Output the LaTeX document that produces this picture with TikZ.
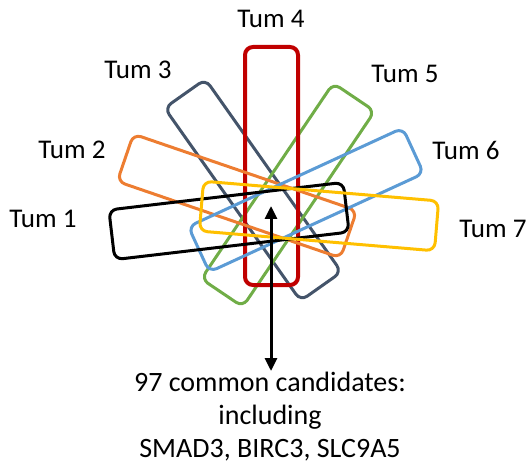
\documentclass[tikz,border=0pt]{standalone}
\usepackage{fontspec}
\setmainfont{Carlito}
\usepackage{tikz}
\usetikzlibrary{arrows.meta}
\definecolor{tumred}{HTML}{C00000}
\definecolor{tumorange}{HTML}{ED7D31}
\definecolor{tumslate}{HTML}{44546A}
\definecolor{tumgreen}{HTML}{70AD47}
\definecolor{tumblue}{HTML}{5B9BD5}
\definecolor{tumyellow}{HTML}{FFC000}

\begin{document}
\begin{tikzpicture}[x=1pt, y=-1pt,
  tumbox/.style={draw, line width=3pt, rounded corners=8pt, minimum width=236pt, minimum height=50pt, inner sep=0pt},
  tumlabel/.style={font=\fontsize{27}{31}\selectfont},
  ]
  \useasboundingbox (0,0) rectangle (532,470);

  %% the seven sets
  \node[tumbox, draw=tumslate, rotate=-54.8] (set3) at (253,190) {};
  \node[tumbox, draw=tumgreen, rotate=56] (set5) at (288,195) {};
  \node[tumbox, draw=tumred, line width=4pt, rotate=90, minimum width=238pt, minimum height=53pt] (set4) at (271.5,166) {};
  \node[tumbox, draw=tumorange, rotate=-18.9] (set2) at (237,196) {};
  \node[tumbox, draw=tumblue, rotate=24.7] (set6) at (306,200) {};
  \node[tumbox, draw=black, rotate=6.7] (set1) at (229,221) {};
  \node[tumbox, draw=tumyellow, rotate=-4.8] (set7) at (319,216) {};

  %% labels
  \node[tumlabel] (lab4) at (271,19) {Tum 4};
  \node[tumlabel] (lab3) at (138,70) {Tum 3};
  \node[tumlabel] (lab5) at (405,74) {Tum 5};
  \node[tumlabel] (lab2) at (72,150) {Tum 2};
  \node[tumlabel] (lab6) at (466,150) {Tum 6};
  \node[tumlabel] (lab1) at (43,219) {Tum 1};
  \node[tumlabel] (lab7) at (493,229) {Tum 7};

  %% common part
  \coordinate (core) at (271,206);
  \node[anchor=north, align=center, inner sep=1pt, font=\fontsize{28}{33}\selectfont] (res) at (270,371)
    {97 common candidates:\\including\\SMAD3, BIRC3, SLC9A5};
  \draw[{Triangle[width=12pt,length=13pt]}-{Triangle[width=12pt,length=13pt]}, line width=3pt] (core) -- (core |- res.north);
\end{tikzpicture}
\end{document}
